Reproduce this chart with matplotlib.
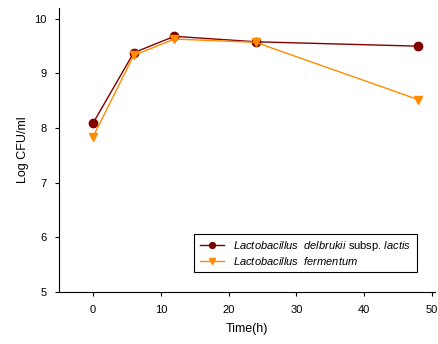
import numpy as np
import matplotlib.pyplot as plt

plt.rcParams["font.family"] = ["Liberation Sans", "DejaVu Sans"]
plt.rcParams["mathtext.fontset"] = "custom"
plt.rcParams["mathtext.rm"] = "Liberation Sans"
plt.rcParams["mathtext.it"] = "Liberation Sans:italic"

time_h = [0, 6, 12, 24, 48]
delbrukii = [8.09, 9.38, 9.68, 9.58, 9.50]
fermentum = [7.84, 9.33, 9.63, 9.57, 8.52]

labels = [
    r"$\it{Lactobacillus\ \ delbrukii}$ subsp. $\it{lactis}$",
    r"$\it{Lactobacillus\ \ fermentum}$",
]


def plot_growth():
    fig = plt.figure(figsize=(4.38, 3.44), dpi=100)
    ax = fig.add_axes([0.135, 0.151, 0.859, 0.826])
    ax.plot(time_h, delbrukii, color="#800000", marker="o", markersize=6,
            linewidth=1, label=labels[0])
    ax.plot(time_h, fermentum, color="#FF8C00", marker="v", markersize=6,
            linewidth=1, label=labels[1])
    ax.set_xlim(-5, 50.5)
    ax.set_ylim(5, 10.2)
    ax.set_xticks([0, 10, 20, 30, 40, 50])
    ax.set_yticks([5, 6, 7, 8, 9, 10])
    ax.spines["top"].set_visible(False)
    ax.spines["right"].set_visible(False)
    ax.tick_params(direction="out", length=3, labelsize=8, pad=6)
    ax.set_xlabel("Time(h)", fontsize=9, labelpad=6)
    ax.set_ylabel("Log CFU/ml", fontsize=9, labelpad=4)
    leg = ax.legend(loc="lower right", bbox_to_anchor=(0.965, 0.05), fontsize=8,
                    fancybox=False, edgecolor="black", framealpha=1,
                    markerscale=0.7, handlelength=2.2, borderpad=0.5,
                    labelspacing=0.15)
    leg.get_frame().set_linewidth(0.8)
    fig.savefig("out.png", dpi=100)


if __name__ == "__main__":
    plot_growth()
